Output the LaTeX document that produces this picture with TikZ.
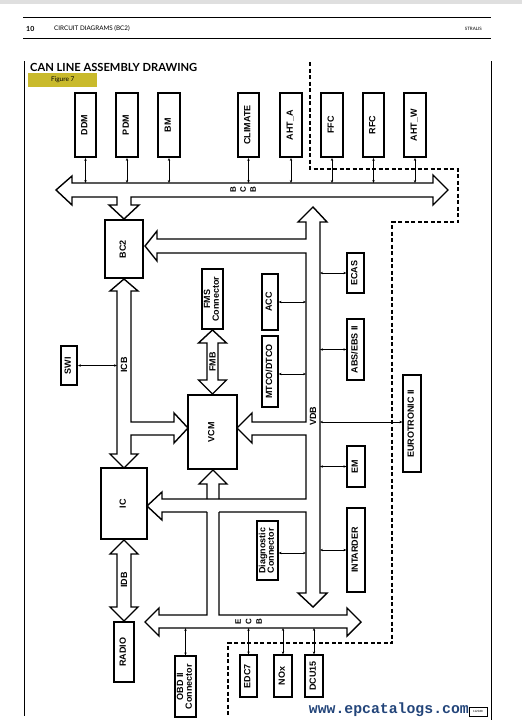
\documentclass[tikz,border=0pt]{standalone}
\usepackage{fontspec}
\setmainfont{Liberation Sans}
\newfontfamily\wmfont{Liberation Mono}
\newfontfamily\gillfont{Lato}
\usetikzlibrary{arrows.meta}
\definecolor{figyellow}{HTML}{C9BA2C}
\definecolor{wmblue}{HTML}{23457A}
\newcommand{\vtxt}[1]{\rotatebox{90}{\renewcommand{\arraystretch}{0.85}\begin{tabular}{@{}c@{}}#1\end{tabular}}}
\begin{document}
\begin{tikzpicture}[x=1pt,y=-1pt,
  mod/.style={draw, line width=1.8pt, inner sep=0pt, font=\fontsize{9}{9}\selectfont\bfseries},
  modt/.style={draw, line width=1.2pt, inner sep=0pt, font=\fontsize{9}{9}\selectfont\bfseries},
  blk/.style={draw, line width=1.4pt, line join=miter},
  sarr/.style={{Stealth[length=3pt,width=2.4pt]}-{Stealth[length=3pt,width=2.4pt]}, line width=0.6pt},
  lab/.style={font=\fontsize{9}{9}\selectfont\bfseries, inner sep=0pt},
  letr/.style={font=\fontsize{8}{8}\selectfont\bfseries, inner sep=0pt, rotate=90},
  dsh/.style={line width=1.7pt, dash pattern=on 4pt off 2.5pt}
]
\useasboundingbox (0,0) rectangle (522,726);
\fill[gray!25] (0,0) rectangle (522,3.5);

% header
\draw[line width=0.8pt] (23,17) -- (491,17);
\draw[line width=0.8pt] (23,38) -- (491,38);
\node[anchor=west, inner sep=0pt, font=\gillfont\bfseries\fontsize{7}{7}\selectfont] (pg) at (26,28.5) {10};
\node[anchor=west, inner sep=0pt, font=\gillfont\fontsize{6.3}{6.3}\selectfont] (hdr) at (54,28.5) {CIRCUIT DIAGRAMS (BC2)};
\node[anchor=east, inner sep=0pt, font=\gillfont\fontsize{4.5}{4.5}\selectfont] (brand) at (482,28.5) {STRALIS};

% frame
\draw[line width=0.9pt] (24,61) -- (24,716);
\draw[line width=0.9pt] (491,61) -- (491,720);
\node[anchor=west, inner sep=0pt, font=\gillfont\bfseries] (title) at (30,67) {\resizebox{167pt}{!}{CAN LINE ASSEMBLY DRAWING}};
\node[fill=figyellow, minimum width=69pt, minimum height=14pt, inner sep=0pt, anchor=north west] (fig) at (28,73) {};
\node[inner sep=0pt, font=\gillfont\fontsize{6.5}{6.5}\selectfont] (figt) at (fig.center) {Figure 7};

% top modules
\node[mod, minimum width=21.5pt, minimum height=64pt] (ddm) at (85.5,125) {\vtxt{DDM}};
\node[mod, minimum width=21.5pt, minimum height=64pt] (pdm) at (127,125) {\vtxt{PDM}};
\node[mod, minimum width=21.5pt, minimum height=64pt] (bm) at (169,125) {\vtxt{BM}};
\node[mod, minimum width=21.5pt, minimum height=64pt] (clim) at (248.5,125) {\vtxt{CLIMATE}};
\node[mod, minimum width=21.5pt, minimum height=64pt] (ahta) at (291,125) {\vtxt{AHT\_A}};
\node[mod, minimum width=21.5pt, minimum height=64pt] (ffc) at (332,125) {\vtxt{FFC}};
\node[mod, minimum width=21.5pt, minimum height=64pt] (rfc) at (373.5,125) {\vtxt{RFC}};
\node[mod, minimum width=21.5pt, minimum height=64pt] (ahtw) at (415,125) {\vtxt{AHT\_W}};
\coordinate (cbcT) at (0,183);
\coordinate (cbcB) at (0,197);
\foreach \m in {ddm,pdm,bm,clim,ahta,ffc,rfc,ahtw}{\draw[sarr] (\m.south) -- (\m.south |- cbcT);}

% top bus CBC
\draw[blk] (56,190)--(72,176)--(72,183)--(433,183)--(433,175)--(448,190)--(433,205)--(433,197)--(131,197)--(131,205)--(139,205)--(124,219)--(109,205)--(117,205)--(117,197)--(72,197)--(72,205)--cycle;
\node[letr] (cb1) at (233,190) {B};
\node[letr] (cb2) at (243,190) {C};
\node[letr] (cb3) at (253,190) {B};

% BC2
\node[mod, minimum width=38pt, minimum height=58pt] (bc2) at (124,249) {\vtxt{BC2}};

% VCM
\node[mod, line width=2.4pt, minimum width=49pt, minimum height=74pt] (vcm) at (212.5,432) {\vtxt{VCM}};

% IC
\node[modt, minimum width=46pt, minimum height=71pt] (ic) at (124,503.5) {\vtxt{IC}};

% RADIO, SWI
\node[modt, minimum width=20pt, minimum height=60pt] (radio) at (124,652) {\vtxt{RADIO}};
\node[mod, minimum width=16pt, minimum height=39pt] (swi) at (69,365.5) {\vtxt{SWI}};
\coordinate (icbL) at (117,0);
\draw[sarr] (swi.east) -- (swi.east -| icbL);

% FMS connector
\node[modt, minimum width=21pt, minimum height=60pt] (fms) at (212.5,299) {\vtxt{FMS\\Connector}};

% VDB bus with branches
\draw[blk] (207,512)--(162,512)--(162,520)--(147,506)--(162,492)--(162,499)--(306,499)--(306,435)--(252,435)--(252,443)--(237,428)--(252,413)--(252,422)--(306,422)--(306,253)--(157,253)--(157,261)--(145,246)--(157,231)--(157,239)--(306,239)--(306,222)--(298,222)--(313,207)--(327,222)--(320,222)--(320,593)--(327,593)--(313,607)--(298,593)--(306,593)--(306,512)--(219,512);
\node[lab, rotate=90] (vdb) at (313,416) {VDB};

% ICB
\draw[blk] (117,454)--(117,291)--(110,291)--(124,279)--(138,291)--(131,291)--(131,422)--(174,422)--(174,413)--(188,428)--(174,443)--(174,435)--(131,435)--(131,454)--(138,454)--(124,468)--(110,454)--cycle;
\node[lab, rotate=90] (icb) at (124,365) {ICB};

% IDB
\draw[blk] (124,540)--(138,554)--(131,554)--(131,607)--(138,607)--(124,621)--(110,607)--(117,607)--(117,554)--(110,554)--cycle;
\node[lab, rotate=90] (idb) at (124,580) {IDB};

% FMB
\draw[blk] (212.5,330)--(226.5,343)--(218,343)--(218,380)--(226.5,380)--(212.5,394)--(198.5,380)--(207,380)--(207,343)--(198.5,343)--cycle;
\node[lab, rotate=90] (fmb) at (212.5,362) {FMB};

% ECB bus and VCM stem
\draw[blk] (219,512)--(219,615)--(347,615)--(347,608)--(361,622)--(347,636)--(347,628)--(159,628)--(159,636)--(145,622)--(159,608)--(159,615)--(207,615)--(207,512)
  (207,499)--(207,484)--(199,484)--(213,470)--(227,484)--(219,484)--(219,499);
\node[letr] (ec1) at (238,621.5) {E};
\node[letr] (ec2) at (248.5,621.5) {C};
\node[letr] (ec3) at (259,621.5) {B};

% left-of-VDB modules
\coordinate (vdbL) at (306,0);
\coordinate (vdbR) at (320,0);
\node[modt, minimum width=16pt, minimum height=56pt] (acc) at (270,302) {\vtxt{ACC}};
\node[modt, minimum width=16pt, minimum height=71pt] (mtco) at (270,371.5) {\vtxt{MTCO/DTCO}};
\node[modt, minimum width=21pt, minimum height=59pt] (diag) at (267.5,550.5) {\vtxt{Diagnostic\\Connector}};
\draw[sarr] (acc.east) -- (acc.east -| vdbL);
\draw[sarr] ([yshift=-2.5pt]mtco.east) -- ([yshift=-2.5pt]mtco.east -| vdbL);
\draw[sarr] ([yshift=-2.5pt]diag.east) -- ([yshift=-2.5pt]diag.east -| vdbL);

% right-of-VDB modules
\node[modt, minimum width=17pt, minimum height=40pt] (ecas) at (355.5,273) {\vtxt{ECAS}};
\node[modt, minimum width=17pt, minimum height=61pt] (abs) at (355.5,349.5) {\vtxt{ABS/EBS II}};
\node[modt, minimum width=18pt, minimum height=41pt] (em) at (356,466.5) {\vtxt{EM}};
\node[modt, minimum width=18pt, minimum height=84pt] (intd) at (356,550) {\vtxt{INTARDER}};
\node[modt, minimum width=18pt, minimum height=97pt] (euro) at (412,423.5) {\vtxt{EUROTRONIC II}};
\foreach \m in {ecas,abs,em,intd}{\draw[sarr] (\m.west) -- (\m.west -| vdbR);}
\draw[sarr] ([yshift=1.5pt]euro.west) -- ([yshift=1.5pt]euro.west -| vdbR);

% bottom modules
\coordinate (ecbB) at (0,628);
\node[modt, minimum width=21pt, minimum height=61pt] (obd) at (185.5,686.5) {\vtxt{OBD II\\Connector}};
\node[modt, minimum width=17pt, minimum height=42pt] (edc) at (248.5,676) {\vtxt{EDC7}};
\node[modt, minimum width=18pt, minimum height=42pt] (nox) at (283,676) {\vtxt{NOx}};
\node[modt, minimum width=18pt, minimum height=42pt] (dcu) at (314,676) {\vtxt{DCU15}};
\foreach \m in {obd,edc,nox,dcu}{\draw[sarr] (\m.north) -- (\m.north |- ecbB);}

% dashed boundary
\draw[dsh] (310,62)--(310,169)--(458,169)--(458,222)--(392,222)--(392,643)--(228,643)--(228,716);

% watermark
\node[anchor=east, inner sep=0pt, text=wmblue, font=\wmfont\bfseries\fontsize{14.8}{14.8}\selectfont] (wm) at (469,710) {www.epcatalogs.com};
\node[draw, line width=0.5pt, minimum width=18pt, minimum height=9pt, inner sep=0pt, font=\fontsize{3}{3}\selectfont] (code) at (478,711.5) {112048};
\end{tikzpicture}
\end{document}
